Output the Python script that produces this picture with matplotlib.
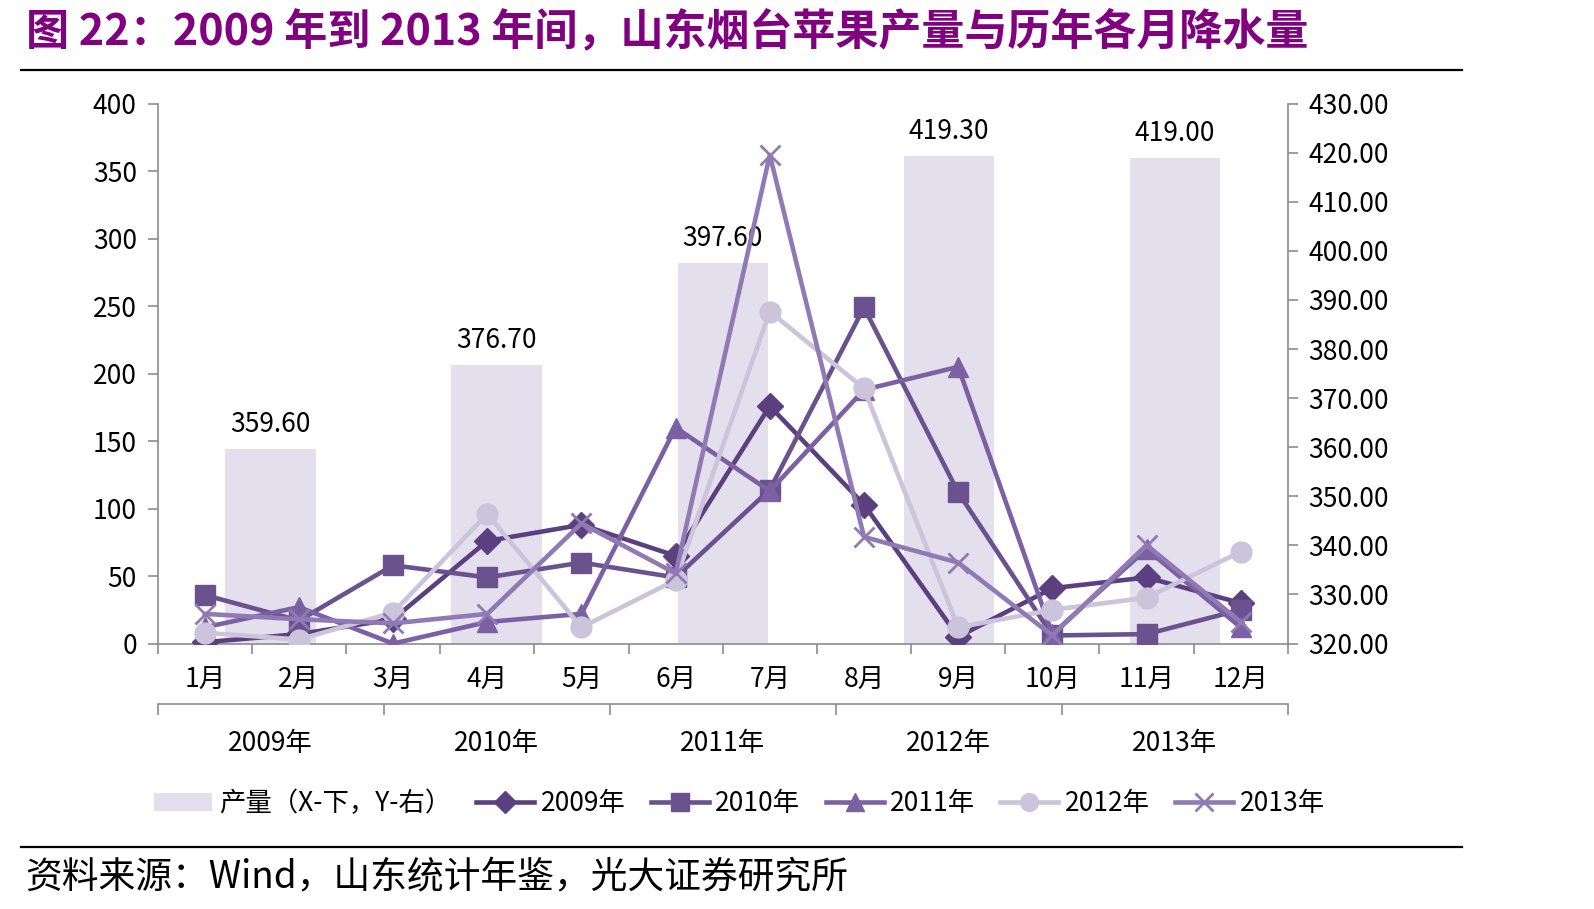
import numpy as np
import matplotlib
matplotlib.use("Agg")
import matplotlib.pyplot as plt
from matplotlib.lines import Line2D

plt.rcParams['font.family'] = ['Noto Sans CJK SC', 'DejaVu Sans']

# === data ===
months = ['1月', '2月', '3月', '4月', '5月', '6月', '7月', '8月', '9月', '10月', '11月', '12月']
years = ['2009年', '2010年', '2011年', '2012年', '2013年']
output = [359.60, 376.70, 397.60, 419.30, 419.00]   # 产量, right axis

rain_2009 = [1, 7, 18, 76, 88, 65, 176, 103, 5, 41, 49, 30]
rain_2010 = [36, 17, 58, 49, 60, 49, 114, 249, 112, 6, 7, 25]
rain_2011 = [12, 27, 0, 16, 22, 160, 113, 188, 205, 7, 70, 12]
rain_2012 = [8, 3, 23, 96, 12, 47, 246, 189, 12, 25, 34, 68]
rain_2013 = [22, 18, 15, 22, 89, 52, 362, 79, 60, 6, 73, 16]

series = [
    ("2009年", rain_2009, "#5B4080", "D", 13),
    ("2010年", rain_2010, "#6A528F", "s", 15),
    ("2011年", rain_2011, "#7B61A3", "^", 15),
    ("2012年", rain_2012, "#CBC4DA", "o", 15),
    ("2013年", rain_2013, "#8F7AB3", "x", 15),
]

grey = "#8C8C8C"
bar_color = "#E4DFEC"
fs = 19

fig = plt.figure(figsize=(15.94, 9.09), dpi=100)
ax = fig.add_axes([0.0989, 0.292, 0.709, 0.594])
ax_bar = ax.twinx()
ax.set_zorder(ax_bar.get_zorder() + 1)
ax.patch.set_visible(False)

# === bars: one per year, spanning 12/5 months each ===
n_m = len(months)
span = n_m / len(years)
year_centers = np.arange(len(years)) * span + span / 2
bars = ax_bar.bar(year_centers, output, width=span * 0.4, color=bar_color, zorder=1)
ax_bar.bar_label(bars, labels=[f"{v:.2f}" for v in output], padding=8, fontsize=fs)
ax_bar.set_ylim(320, 430)
ax_bar.set_yticks(np.arange(320, 431, 10))
ax_bar.set_yticklabels([f"{v:.2f}" for v in np.arange(320, 431, 10)])
ax_bar.tick_params(axis='y', direction='out', length=7, width=1.2, color=grey,
                   labelsize=fs, pad=8)

# === monthly precipitation lines ===
x = np.arange(n_m) + 0.5
handles = []
for name, vals, col, mk, ms in series:
    if mk == "x":
        ln, = ax.plot(x, vals, color=col, lw=3.3, marker=mk, ms=ms, mew=2, label=name, zorder=3)
    else:
        ln, = ax.plot(x, vals, color=col, lw=3.3, marker=mk, ms=ms, mec=col, label=name, zorder=3)
    handles.append(ln)

ax.set_xlim(0, n_m)
ax.set_ylim(0, 400)
ax.set_yticks(np.arange(0, 401, 50))
ax.tick_params(axis='y', direction='out', length=7, width=1.2, color=grey, labelsize=fs, pad=8)

ax.set_xticks(np.arange(n_m + 1))
ax.set_xticklabels([''] * (n_m + 1))
ax.set_xticks(x, labels=months, minor=True)
ax.tick_params(axis='x', which='major', direction='out', length=7, width=1.2, color=grey)
ax.tick_params(axis='x', which='minor', length=0, labelsize=fs, pad=17)

for a in (ax, ax_bar):
    for s in a.spines.values():
        s.set_visible(False)
ax.spines['left'].set_visible(True)
ax.spines['bottom'].set_visible(True)
ax_bar.spines['right'].set_visible(True)
for s in (ax.spines['left'], ax.spines['bottom'], ax_bar.spines['right']):
    s.set_color(grey)
    s.set_linewidth(1.2)

# === second category row: years ===
sec = ax.secondary_xaxis(-0.111)
sec.set_xticks(np.arange(len(years) + 1) * span)
sec.set_xticklabels([''] * (len(years) + 1))
sec.set_xticks(year_centers, labels=years, minor=True)
sec.tick_params(axis='x', which='major', direction='out', length=8, width=1.2, color=grey)
sec.tick_params(axis='x', which='minor', length=0, labelsize=fs, pad=19)
for s in sec.spines.values():
    s.set_color(grey)
    s.set_linewidth(1.2)

# === legend ===
fig.legend([bars] + handles, ["产量（X-下，Y-右）"] + [s[0] for s in series],
           loc='center', bbox_to_anchor=(0.464, 0.116), ncol=6, frameon=False,
           fontsize=fs, handlelength=2.2, handletextpad=0.25, columnspacing=0.95,
           markerscale=0.85)

# === title, rules and source ===
fig.text(0.016, 0.966, "图 22：2009 年到 2013 年间，山东烟台苹果产量与历年各月降水量",
         fontsize=31, fontweight='bold', color="#800080", va='center', ha='left')
fig.add_artist(Line2D([0.013, 0.917], [0.923, 0.923], color='black', lw=1.6))
fig.add_artist(Line2D([0.013, 0.917], [0.068, 0.068], color='black', lw=1.6))
fig.text(0.016, 0.034, "资料来源：Wind，山东统计年鉴，光大证券研究所",
         fontsize=26.5, color='black', va='center', ha='left')

fig.savefig("out.png", dpi=100, facecolor='white')
